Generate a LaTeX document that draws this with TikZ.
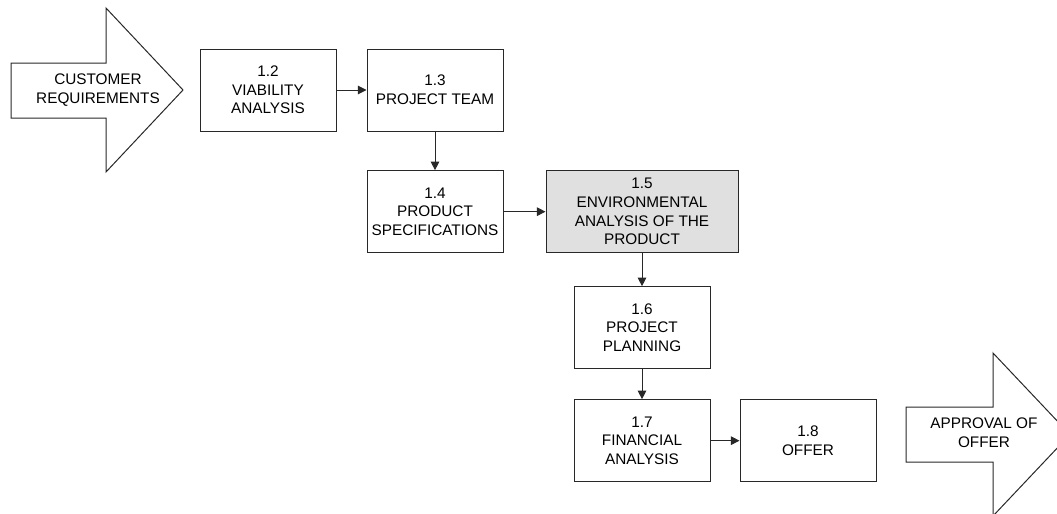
\documentclass[tikz,border=0pt]{standalone}
\usepackage{fontspec}
\setmainfont{Liberation Sans}
\usetikzlibrary{positioning,arrows.meta}
\definecolor{stepgray}{RGB}{224,224,224}
\definecolor{linegray}{RGB}{40,40,40}

\begin{document}
\begin{tikzpicture}[
x=0.75pt,y=-0.75pt,
task/.style={
  draw=linegray,
  line width=0.75pt,
  rectangle,
  align=center,
  inner sep=0pt,
  minimum width=102pt,
  minimum height=61.5pt,
  font=\fontsize{11.5pt}{14pt}\selectfont
},
flow/.style={
  draw=linegray,
  line width=0.75pt,
  -{Triangle[length=6.5pt,width=6.5pt]}
},
bigarrow/.style={
  draw=linegray,
  line width=0.75pt,
  fill=white
},
arrowtext/.style={
  align=center,
  inner sep=0pt,
  font=\fontsize{11.5pt}{14pt}\selectfont
}
]
\useasboundingbox (0,0) rectangle (1057,514);

% input and output arrows
\draw[bigarrow] (11,63) -- (106,63) -- (106,8) -- (183,90)
  -- (106,172) -- (106,118) -- (11,118) -- cycle;
\node[arrowtext] (req) at (98,90) {CUSTOMER\\REQUIREMENTS};

\begin{scope}
\clip (0,0) rectangle (1057,514);
\draw[bigarrow] (906,407) -- (993,407) -- (993,353) -- (1070,434.5)
  -- (993,516) -- (993,462) -- (906,462) -- cycle;
\end{scope}
\node[arrowtext] (appr) at (984,433) {APPROVAL OF\\OFFER};

% process steps
\node[task] at (268,90)
  (v12) {1.2\\VIABILITY\\ANALYSIS};
\node[task,right=22.5pt of v12]
  (v13) {1.3\\PROJECT TEAM};
\node[task,below=29pt of v13]
  (v14) {1.4\\PRODUCT\\SPECIFICATIONS};
\node[task,right=31.5pt of v14,minimum width=144pt,fill=stepgray]
  (v15) {1.5\\ENVIRONMENTAL\\ANALYSIS OF THE\\PRODUCT};
\node[task,below=24.75pt of v15]
  (v16) {1.6\\PROJECT\\PLANNING};
\node[task,below=22.5pt of v16]
  (v17) {1.7\\FINANCIAL\\ANALYSIS};
\node[task,right=21.75pt of v17]
  (v18) {1.8\\OFFER};

\draw[flow] (v12) -- (v13);
\draw[flow] (v13) -- (v14);
\draw[flow] (v14) -- (v15);
\draw[flow] (v15) -- (v16);
\draw[flow] (v16) -- (v17);
\draw[flow] (v17) -- (v18);
\end{tikzpicture}
\end{document}
